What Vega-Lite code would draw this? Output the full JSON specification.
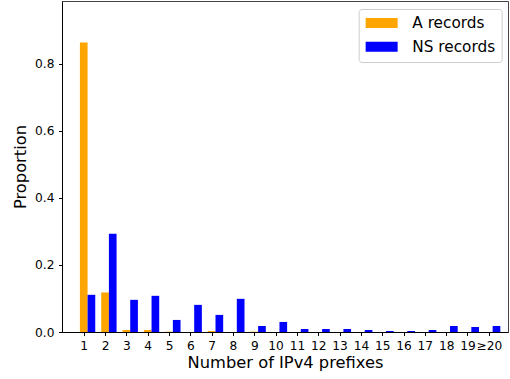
{
  "$schema": "https://vega.github.io/schema/vega-lite/v6.json",
  "width": 446,
  "height": 331,
  "autosize": {"type": "none"},
  "padding": {"left": 62, "top": 1, "right": 2, "bottom": 47},
  "background": "white",
  "config": {
    "font": "DejaVu Sans",
    "view": {"stroke": "#444", "strokeWidth": 1},
    "axis": {
      "grid": false,
      "domainColor": "black",
      "tickColor": "black",
      "tickSize": 3.5,
      "labelColor": "black",
      "labelFontSize": 12.2,
      "labelFont": "DejaVu Sans",
      "titleFont": "DejaVu Sans",
      "titleFontSize": 16.3,
      "titleFontWeight": "normal",
      "titleColor": "black",
      "labelPadding": 4
    }
  },
  "data": {
    "values": [
      {"prefix": "1", "type": "A records", "value": 0.864},
      {"prefix": "2", "type": "A records", "value": 0.118},
      {"prefix": "3", "type": "A records", "value": 0.006},
      {"prefix": "4", "type": "A records", "value": 0.006},
      {"prefix": "5", "type": "A records", "value": 0.001},
      {"prefix": "6", "type": "A records", "value": 0.0},
      {"prefix": "7", "type": "A records", "value": 0.003},
      {"prefix": "8", "type": "A records", "value": 0.0},
      {"prefix": "9", "type": "A records", "value": 0.001},
      {"prefix": "10", "type": "A records", "value": 0.0},
      {"prefix": "11", "type": "A records", "value": 0.0},
      {"prefix": "12", "type": "A records", "value": 0.0},
      {"prefix": "13", "type": "A records", "value": 0.0},
      {"prefix": "14", "type": "A records", "value": 0.0},
      {"prefix": "15", "type": "A records", "value": 0.0},
      {"prefix": "16", "type": "A records", "value": 0.0},
      {"prefix": "17", "type": "A records", "value": 0.0},
      {"prefix": "18", "type": "A records", "value": 0.0},
      {"prefix": "19", "type": "A records", "value": 0.0},
      {"prefix": "≥20", "type": "A records", "value": 0.0},
      {"prefix": "1", "type": "NS records", "value": 0.111},
      {"prefix": "2", "type": "NS records", "value": 0.293},
      {"prefix": "3", "type": "NS records", "value": 0.096},
      {"prefix": "4", "type": "NS records", "value": 0.108},
      {"prefix": "5", "type": "NS records", "value": 0.036},
      {"prefix": "6", "type": "NS records", "value": 0.081},
      {"prefix": "7", "type": "NS records", "value": 0.051},
      {"prefix": "8", "type": "NS records", "value": 0.099},
      {"prefix": "9", "type": "NS records", "value": 0.018},
      {"prefix": "10", "type": "NS records", "value": 0.030},
      {"prefix": "11", "type": "NS records", "value": 0.009},
      {"prefix": "12", "type": "NS records", "value": 0.009},
      {"prefix": "13", "type": "NS records", "value": 0.009},
      {"prefix": "14", "type": "NS records", "value": 0.006},
      {"prefix": "15", "type": "NS records", "value": 0.003},
      {"prefix": "16", "type": "NS records", "value": 0.003},
      {"prefix": "17", "type": "NS records", "value": 0.006},
      {"prefix": "18", "type": "NS records", "value": 0.018},
      {"prefix": "19", "type": "NS records", "value": 0.015},
      {"prefix": "≥20", "type": "NS records", "value": 0.018}
    ]
  },
  "mark": {"type": "bar"},
  "encoding": {
    "x": {
      "field": "prefix",
      "type": "nominal",
      "sort": ["1","2","3","4","5","6","7","8","9","10","11","12","13","14","15","16","17","18","19","≥20"],
      "scale": {"paddingInner": 0.28, "paddingOuter": 0.6, "align": 0.7},
      "axis": {"title": "Number of IPv4 prefixes", "labelAngle": 0, "tickOffset": -3.84, "titlePadding": 3}
    },
    "xOffset": {
      "field": "type",
      "type": "nominal",
      "sort": ["A records", "NS records"],
      "scale": {"paddingInner": 0, "paddingOuter": 0}
    },
    "y": {
      "field": "value",
      "type": "quantitative",
      "scale": {"domain": [0, 0.988], "nice": false, "zero": true},
      "axis": {"title": "Proportion", "values": [0, 0.2, 0.4, 0.6, 0.8], "format": ".1f", "titlePadding": 6, "labelPadding": 4.5}
    },
    "color": {
      "field": "type",
      "type": "nominal",
      "scale": {"domain": ["A records", "NS records"], "range": ["#FFA500", "#0000FF"]},
      "legend": {
        "title": null,
        "orient": "none",
        "legendX": 296.7,
        "legendY": 8,
        "direction": "vertical",
        "symbolType": "M-3.2,-1H3.2V1H-3.2Z",
        "symbolSize": 100,
        "symbolOffset": 9,
        "symbolStrokeWidth": 0,
        "labelOffset": 23,
        "labelFontSize": 15.3,
        "labelFont": "DejaVu Sans",
        "labelColor": "black",
        "rowPadding": 7.7,
        "padding": 6.3,
        "strokeColor": "#cccccc",
        "fillColor": "white",
        "cornerRadius": 3
      }
    }
  }
}
